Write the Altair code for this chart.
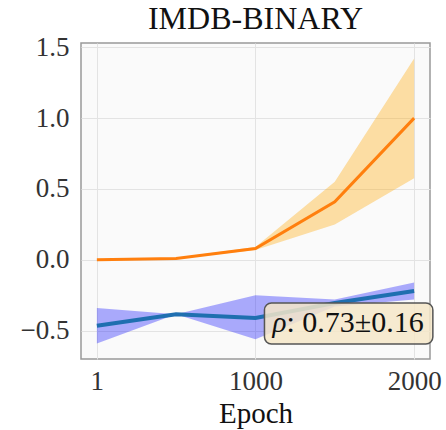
import altair as alt
import pandas as pd

epochs = [1, 500, 1000, 1500, 2000]
orange_mean = [0.0, 0.01, 0.08, 0.41, 1.0]
orange_lo = [0.0, 0.005, 0.07, 0.25, 0.575]
orange_hi = [0.0, 0.015, 0.09, 0.55, 1.42]
blue_mean = [-0.466, -0.385, -0.41, -0.305, -0.22]
blue_lo = [-0.59, -0.385, -0.56, -0.33, -0.28]
blue_hi = [-0.34, -0.385, -0.25, -0.28, -0.16]
x_ticks = [1, 1000, 2000]
y_ticks = [-0.5, 0.0, 0.5, 1.0, 1.5]
title_text = "IMDB-BINARY"
rho_label = "ρ"
rho_value = ": 0.73±0.16"

FONT = "Liberation Serif"

df = pd.DataFrame({
    "epoch": epochs,
    "o_mean": orange_mean, "o_lo": orange_lo, "o_hi": orange_hi,
    "b_mean": blue_mean, "b_lo": blue_lo, "b_hi": blue_hi,
})

xs = alt.Scale(domain=[-99, 2100], nice=False, zero=False)
ys = alt.Scale(domain=[-0.70, 1.53], nice=False, zero=False)

x_axis = alt.Axis(values=x_ticks, title="Epoch", format="d",
                  labelFont=FONT, labelFontSize=27, labelColor="#333333",
                  labelPadding=9, titleFont=FONT, titleFontSize=29,
                  titleFontWeight="normal", titleColor="#111111", titlePadding=5)
y_axis = alt.Axis(values=y_ticks, title=None, format=".1f",
                  labelFont=FONT, labelFontSize=27, labelColor="#333333",
                  labelPadding=12)

xenc = alt.X("epoch:Q", scale=xs, axis=x_axis)

base = alt.Chart(df)

o_band = base.mark_area(color="#ffa500", opacity=0.35).encode(
    x=xenc, y=alt.Y("o_lo:Q", scale=ys, axis=y_axis), y2="o_hi:Q")
o_line = base.mark_line(color="#ff7f0e", strokeWidth=3).encode(
    x=xenc, y=alt.Y("o_mean:Q", scale=ys))
b_band = base.mark_area(color="#0000ff", opacity=0.32).encode(
    x=xenc, y=alt.Y("b_lo:Q", scale=ys), y2="b_hi:Q")
b_line = base.mark_line(color="#1f6fb0", strokeWidth=4).encode(
    x=xenc, y=alt.Y("b_mean:Q", scale=ys))

ann = pd.DataFrame({"x1": [1057], "x2": [2118], "y1": [-0.304], "y2": [-0.594],
                    "tx": [1108], "tx2": [1196], "ty": [-0.447]})
box = alt.Chart(ann).mark_rect(
    fill="#f5e6c8", fillOpacity=0.85, stroke="#555555", strokeWidth=1.5, cornerRadius=7
).encode(x=alt.X("x1:Q", scale=xs), x2="x2:Q", y=alt.Y("y1:Q", scale=ys), y2="y2:Q")
rho = alt.Chart(ann).mark_text(
    text=rho_label, font=FONT, fontSize=29, fontStyle="italic", align="left",
    baseline="middle", color="#111111"
).encode(x=alt.X("tx:Q", scale=xs), y=alt.Y("ty:Q", scale=ys))
val = alt.Chart(ann).mark_text(
    text=rho_value, font=FONT, fontSize=30, align="left", baseline="middle", color="#111111"
).encode(x=alt.X("tx2:Q", scale=xs), y=alt.Y("ty:Q", scale=ys))

chart = alt.layer(o_band, o_line, b_band, b_line, box, rho, val).properties(
    width=349, height=316,
    title=alt.TitleParams(title_text, font=FONT, fontSize=32, fontWeight="normal",
                          anchor="middle", frame="group", offset=0, dy=3,
                          color="#111111"),
    autosize=alt.AutoSizeParams(type="none"),
    padding={"left": 81, "top": 43, "right": 16, "bottom": 71},
).configure_view(
    fill="#fafafa", stroke="#999999", strokeWidth=1.5
).configure_axis(
    grid=True, gridColor="#e3e3e3", gridWidth=1, domain=False, ticks=False,
)

chart.save("out.html", embed_options={"renderer": "svg", "actions": False})
